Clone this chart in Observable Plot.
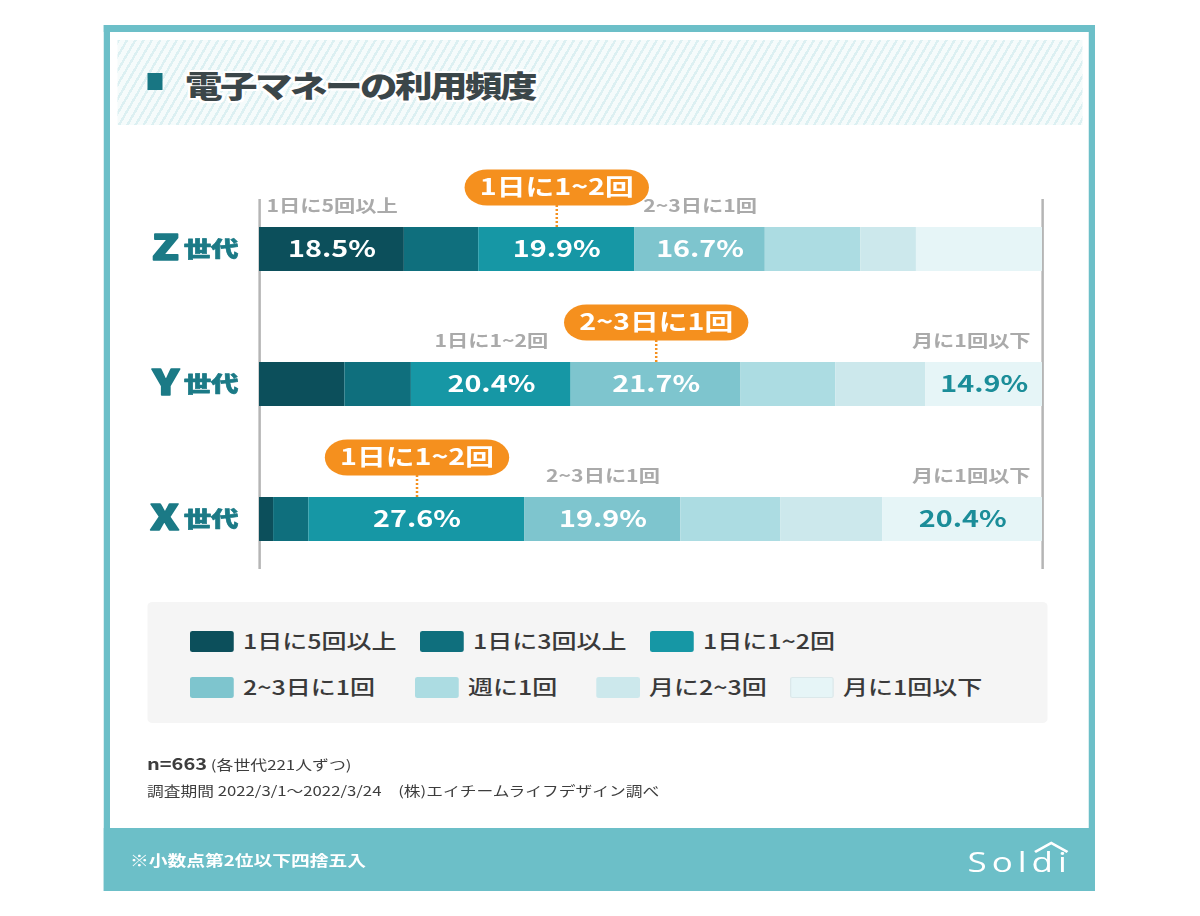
<!DOCTYPE html>
<html>
<head>
<meta charset="utf-8">
<script src="https://cdn.jsdelivr.net/npm/d3@7"></script>
<script src="https://cdn.jsdelivr.net/npm/@observablehq/plot@0.6"></script>
<style>
  html, body { margin: 0; padding: 0; background: #fff; overflow: hidden; }
  body { font-family: "Noto Sans CJK JP", "Noto Sans", sans-serif; }
  #page { position: relative; width: 960px; height: 916px; transform: scaleX(1.25); transform-origin: 0 0; }
  #frame { position: absolute; left: 83.2px; top: 25px; width: 792.8px; height: 866px; box-sizing: border-box;
           border-top: 7px solid #6cbfc8; border-left: 5.6px solid #6cbfc8; border-right: 5.6px solid #6cbfc8; }
  #titleband { position: absolute; left: 94.4px; top: 40px; width: 771.2px; height: 85px;
           background: repeating-linear-gradient(115deg, #dcf0f2 0px, #dcf0f2 2px, #f5fbfb 2px, #f5fbfb 6px); }
  #titlemark { position: absolute; left: 118.4px; top: 73px; width: 12px; height: 17px; background: #187683; }
  #title { position: absolute; left: 148px; top: 62px; font-size: 30px; line-height: 44px; font-weight: 900;
           letter-spacing: -2px; color: #3b4649; white-space: nowrap;
           text-shadow: 2px 0 #fff, -2px 0 #fff, 0 2px #fff, 0 -2px #fff, 2px 2px #fff, -2px -2px #fff, 2px -2px #fff, -2px 2px #fff; }
  #chart { position: absolute; left: 0; top: 140px; }
  #legend { position: absolute; left: 117.6px; top: 602px; width: 720px; height: 121px; background: #f5f5f5; border-radius: 4px; }
  .item { position: absolute; display: flex; align-items: center; height: 24px; white-space: nowrap; }
  .sw { width: 35.2px; height: 21px; border-radius: 2px; box-sizing: border-box; }
  .lab { margin-left: 7.2px; font-size: 20px; font-weight: 500; color: #3a3a3a; line-height: 24px; }
  #notes { position: absolute; left: 117.6px; top: 750px; color: #3d3d3d; white-space: nowrap; }
  #notes .l1 { font-size: 13.5px; line-height: 26px; }
  #notes .l1 b { font-size: 16px; font-weight: 700; }
  #notes .l2 { font-size: 13.4px; line-height: 26px; }
  #footer { position: absolute; left: 83.2px; top: 828px; width: 792.8px; height: 63px; background: #6cbfc8; }
  #footnote { position: absolute; left: 104px; top: 848px; font-size: 15px; line-height: 24px; font-weight: 700; color: #fff; white-space: nowrap; }
  #logo { position: absolute; left: 774px; top: 841px; color: #fff; font-family: "Open Sans", sans-serif; font-size: 28px;
          font-weight: 400; letter-spacing: 4px; line-height: 40px; }
  #roof { position: absolute; left: 826px; top: 841px; }
</style>
</head>
<body>
<div id="page">
  <div id="frame"></div>
  <div id="titleband"></div>
  <div id="titlemark"></div>
  <div id="title">電子マネーの利用頻度</div>
  <div id="chart"></div>
  <div id="legend"></div>
  <div id="notes">
    <div class="l1"><b>n=663</b> (各世代221人ずつ)</div>
    <div class="l2">調査期間 2022/3/1～2022/3/24　(株)エイチームライフデザイン調べ</div>
  </div>
  <div id="footer"></div>
  <div id="footnote">※小数点第2位以下四捨五入</div>
  <div id="logo">Soldi</div>
  <svg id="roof" width="30" height="14"><polyline points="2,11 15,2 28,11" fill="none" stroke="#fff" stroke-width="2.4"/></svg>
</div>
<script>
// ---- data ----
const generations = ["Z世代", "Y世代", "X世代"];
const categories = ["1日に5回以上", "1日に3回以上", "1日に1~2回", "2~3日に1回", "週に1回", "月に2~3回", "月に1回以下"];
const zValues = [18.5, 9.5, 19.9, 16.7, 12.2, 7.1, 16.1];
const yValues = [10.9, 8.5, 20.4, 21.7, 12.1, 11.5, 14.9];
const xValues = [1.8, 4.5, 27.6, 19.9, 12.8, 13.0, 20.4];
const colors = ["#0c4f5b", "#0f6f7d", "#1697a5", "#7ec5ce", "#acdce2", "#cce8ec", "#e6f5f7"];

// ---- derived table ----
const seriesByGen = [zValues, yValues, xValues];
const rows = [];
generations.forEach((g, gi) => {
  const vals = seriesByGen[gi];
  let start = 0;
  vals.forEach((v, ci) => {
    const rank = vals.filter(o => o > v).length;
    rows.push({gen: g, cat: categories[ci], ci, value: v, start, mid: start + v / 2, end: start + v,
               rank, shown: rank < 3, isMax: rank === 0});
    start += v;
  });
});

const orange = "#f5901e";
const teal = "#1b7a86";
const pct = d => d.value.toFixed(1) + "%";

const chart = Plot.plot({
  width: 960,
  height: 440,
  marginLeft: 207.2,
  marginRight: 126.4,
  marginTop: 59,
  marginBottom: 11,
  x: {domain: [0, 100], axis: null},
  y: {domain: generations, axis: null, paddingInner: 0.676, paddingOuter: 0.1985},
  color: {domain: categories, range: colors},
  style: {fontFamily: "'Noto Sans CJK JP', sans-serif", background: "transparent", overflow: "visible"},
  marks: [
    Plot.ruleX([0, 100], {stroke: "#b5b5b5", strokeWidth: 2}),
    Plot.barX(rows, Plot.stackX({x: "value", y: "gen", fill: "cat"})),
    // value labels
    Plot.text(rows, Plot.stackX({x: "value", y: "gen",
      text: d => (d.shown && d.ci < 4) ? pct(d) : null,
      fill: "#ffffff", fontSize: 23, fontWeight: 700})),
    Plot.text(rows, Plot.stackX({x: "value", y: "gen",
      text: d => (d.shown && d.ci >= 4) ? pct(d) : null,
      fill: "#1b8d99", fontSize: 23, fontWeight: 700})),
    // grey category annotations
    Plot.text(rows.filter(d => d.shown && !d.isMax && d.ci < categories.length - 1), {
      x: "mid", y: "gen", text: "cat", dy: -43, fill: "#aaaaaa", fontSize: 17, fontWeight: 700}),
    Plot.text(rows.filter(d => d.shown && !d.isMax && d.ci === categories.length - 1), {
      x: "end", y: "gen", text: "cat", dy: -43, dx: -9.6, textAnchor: "end", fill: "#aaaaaa", fontSize: 17, fontWeight: 700}),
    // orange callouts
    Plot.tickX(rows.filter(d => d.isMax), {x: "mid", y: "gen", stroke: orange, strokeWidth: 2,
      strokeDasharray: "2,2", dy: -22, insetBottom: 22}),
    Plot.link(rows.filter(d => d.isMax), {x1: d => d.mid - 8.9, x2: d => d.mid + 8.9, y1: "gen", y2: "gen",
      dy: -62, stroke: orange, strokeWidth: 36, strokeLinecap: "round"}),
    Plot.text(rows.filter(d => d.isMax), {x: "mid", y: "gen", text: "cat", dy: -62,
      fill: "#ffffff", fontSize: 23, fontWeight: 700}),
    // generation labels
    Plot.text(generations, {y: d => d, frameAnchor: "left", dx: -16.8, textAnchor: "end",
      text: d => d.slice(1), fill: teal, stroke: teal, strokeWidth: 0.6, fontSize: 22, fontWeight: 900}),
    Plot.text(generations, {y: d => d, frameAnchor: "left", dx: -64.5, dy: -1, textAnchor: "end",
      text: d => d[0], fill: teal, stroke: teal, strokeWidth: 1.6, fontSize: 35, fontWeight: 900})
  ]
});
document.getElementById("chart").appendChild(chart);

// ---- legend ----
const legendRows = [[0, 1, 2], [3, 4, 5, 6]];
const rowLefts = [[34.4, 218.4, 402.4], [34.4, 214.4, 359.2, 514.4]];
const rowTops = [27, 73];
const legend = document.getElementById("legend");
legendRows.forEach((r, ri) => {
  r.forEach((ci, k) => {
    const item = document.createElement("div");
    item.className = "item";
    item.style.left = rowLefts[ri][k] + "px";
    item.style.top = rowTops[ri] + "px";
    const sw = document.createElement("div");
    sw.className = "sw";
    sw.style.background = colors[ci];
    if (ci === categories.length - 1) sw.style.border = "1px solid #dbe8ea";
    const lab = document.createElement("div");
    lab.className = "lab";
    lab.textContent = categories[ci];
    item.appendChild(sw);
    item.appendChild(lab);
    legend.appendChild(item);
  });
});
</script>
</body>
</html>
